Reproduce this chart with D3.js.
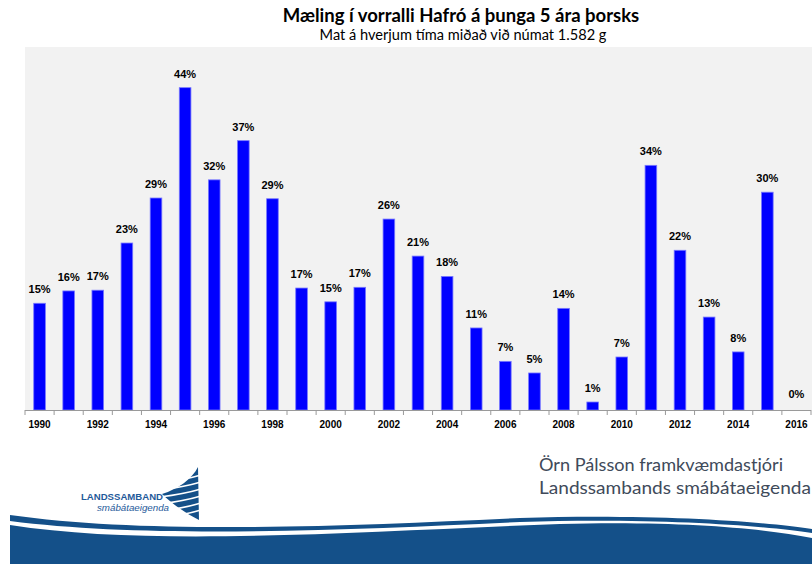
<!DOCTYPE html>
<html>
<head>
<meta charset="utf-8">
<script src="https://cdn.jsdelivr.net/npm/d3@7"></script>
<style>
  html, body { margin: 0; padding: 0; background: #ffffff; }
  svg { display: block; }
</style>
</head>
<body>
<svg id="chart" width="812" height="564"></svg>
<script>
// ---- data ----
const years = [1990,1991,1992,1993,1994,1995,1996,1997,1998,1999,2000,2001,2002,2003,2004,2005,2006,2007,2008,2009,2010,2011,2012,2013,2014,2015,2016];
const values = [0.147,0.164,0.165,0.230,0.292,0.444,0.317,0.371,0.291,0.168,0.149,0.169,0.263,0.212,0.184,0.113,0.067,0.051,0.140,0.011,0.073,0.337,0.220,0.128,0.080,0.300,0.000];
const tickYears = [1990,1992,1994,1996,1998,2000,2002,2004,2006,2008,2010,2012,2014,2016];
const titleText = "Mæling í vorralli Hafró á þunga 5 ára þorsks";
const subtitleText = "Mat á hverjum tíma miðað við númat 1.582 g";
const footerLines = ["Örn Pálsson framkvæmdastjóri", "Landssambands smábátaeigenda"];

const svg = d3.select("#chart");
const plot = {left: 25, right: 811, top: 47, bottom: 410};

// plot background
svg.append("rect")
  .attr("x", plot.left).attr("y", plot.top)
  .attr("width", 812 - plot.left).attr("height", plot.bottom - plot.top)
  .attr("fill", "#f2f2f2");

const x = d3.scaleBand().domain(years).range([plot.left, plot.right])
  .paddingInner(0.6).paddingOuter(0.3);
const y = d3.scaleLinear().domain([0, 0.5]).range([plot.bottom, plot.top]);

const data = years.map((yr, i) => ({year: yr, value: values[i]}));

// bars
svg.append("g").selectAll("rect").data(data).join("rect")
  .attr("x", d => x(d.year))
  .attr("y", d => y(d.value))
  .attr("width", x.bandwidth())
  .attr("height", d => y(0) - y(d.value))
  .attr("fill", "#0000ff")
  .attr("stroke", "#7878ff")
  .attr("stroke-width", 0.8);

// value labels
const fmt = d3.format(".0%");
svg.append("g").selectAll("text").data(data).join("text")
  .attr("x", d => x(d.year) + x.bandwidth() / 2)
  .attr("y", d => y(d.value) - (d.value === 0 ? 12 : 10))
  .attr("text-anchor", "middle")
  .attr("font-family", "Liberation Sans, Arial, sans-serif")
  .attr("font-weight", "bold")
  .attr("font-size", 11)
  .attr("fill", "#000")
  .text(d => fmt(d.value));

// axis
const step = x.step();
const off = (step - x.bandwidth()) / 2;
const axisG = svg.append("g").attr("transform", `translate(0,${plot.bottom})`)
  .call(d3.axisBottom(x).tickValues(tickYears).tickSize(0).tickPadding(11));
axisG.select(".domain").attr("stroke", "#9a9a9a").attr("d", `M${plot.left},0.5H${plot.right}`);
axisG.selectAll("text")
  .attr("font-family", "Liberation Sans, Arial, sans-serif")
  .attr("font-weight", "bold")
  .attr("font-size", 10)
  .attr("fill", "#000");
// tick marks at category boundaries
const bounds = years.map(yr => x(yr) - off).concat([x(years[years.length - 1]) - off + step]);
axisG.selectAll("line.bound").data(bounds).join("line")
  .attr("class", "bound")
  .attr("x1", d => d).attr("x2", d => d)
  .attr("y1", 0).attr("y2", 5)
  .attr("stroke", "#9a9a9a");

// title
svg.append("text").attr("x", 461).attr("y", 22).attr("text-anchor", "middle")
  .attr("font-family", "Lato, sans-serif").attr("font-weight", "bold")
  .attr("font-size", 18.5).attr("fill", "#000").text(titleText);
svg.append("text").attr("x", 463).attr("y", 40).attr("text-anchor", "middle")
  .attr("font-family", "Lato, sans-serif")
  .attr("font-size", 14.6).attr("fill", "#000").text(subtitleText);

// footer text
const footerWidths = [244, 272];
svg.append("g").selectAll("text").data(footerLines).join("text")
  .attr("x", 539).attr("y", (d, i) => 471 + i * 23)
  .attr("font-family", "Lato, sans-serif")
  .attr("font-size", 18).attr("fill", "#404a5a")
  .attr("textLength", (d, i) => footerWidths[i])
  .attr("lengthAdjust", "spacingAndGlyphs")
  .text(d => d);

// wave
const blue = "#145089";
svg.append("path")
  .attr("d", "M10,515 C150,535 350,526 520,518 C650,514 760,521 812,529 L812,533 C760,525 650,518 520,522 C350,530 150,539 10,521 Z")
  .attr("fill", blue);
svg.append("path")
  .attr("d", "M10,525 C150,547 350,532 560,524 C680,521 760,528 812,538 L812,564 L10,564 Z")
  .attr("fill", blue);

// logo
const logo = svg.append("g");
logo.append("path")
  .attr("d", "M198,467 L199,520 C185,513 170,502 162,494 C178,489 192,479 198,467 Z")
  .attr("fill", blue);
[0,1,2,3,4,5].forEach(i => {
  const yy = 477 + i * 7;
  logo.append("path")
    .attr("d", `M${201},${yy - 2} Q${184},${yy + 3} ${160},${yy + 6}`)
    .attr("stroke", "#fff").attr("stroke-width", 1.6).attr("fill", "none");
});
logo.append("text").attr("x", 81).attr("y", 499.5)
  .attr("font-family", "Liberation Sans, Arial, sans-serif").attr("font-weight", "bold")
  .attr("font-size", 9).attr("fill", "#1f5a9a")
  .attr("textLength", 82).attr("lengthAdjust", "spacingAndGlyphs").text("LANDSSAMBAND");
logo.append("text").attr("x", 97).attr("y", 510.5)
  .attr("font-family", "Liberation Sans, Arial, sans-serif").attr("font-style", "italic")
  .attr("font-size", 9.5).attr("fill", "#1f5a9a")
  .attr("textLength", 72).attr("lengthAdjust", "spacingAndGlyphs").text("smábátaeigenda");
</script>
</body>
</html>
